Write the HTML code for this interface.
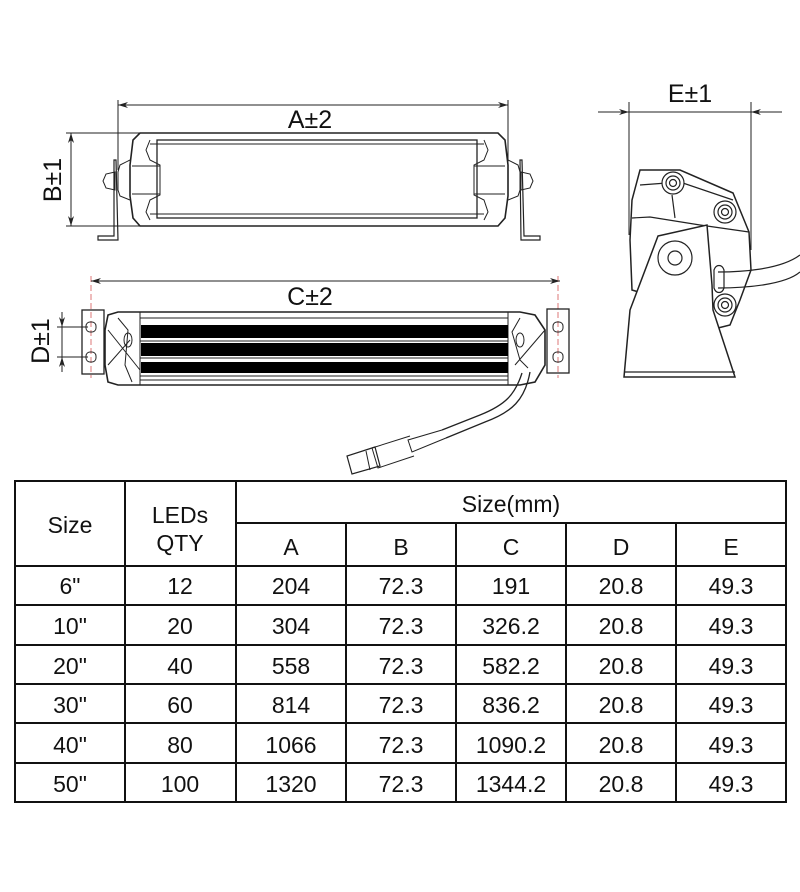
<!DOCTYPE html>
<html><head><meta charset="utf-8"><style>
html,body{margin:0;padding:0;background:#fff;}
svg{display:block;font-family:"Liberation Sans",Arial,sans-serif;}
</style></head><body>
<svg width="800" height="892" viewBox="0 0 800 892" xmlns="http://www.w3.org/2000/svg">
<defs>
<marker id="ar" viewBox="0 0 10 6" refX="10" refY="3" markerWidth="10" markerHeight="6" orient="auto-start-reverse"><path d="M0,0 L10,3 L0,6 L3,3z" fill="#222"/></marker>
</defs>
<g stroke="#222" fill="none" stroke-width="1">
<line x1="118" y1="100" x2="118" y2="170"/>
<line x1="508" y1="100" x2="508" y2="170"/>
<line x1="118" y1="105" x2="508" y2="105" marker-start="url(#ar)" marker-end="url(#ar)"/>
<line x1="66" y1="133" x2="140" y2="133"/>
<line x1="66" y1="226" x2="140" y2="226"/>
<line x1="71" y1="133" x2="71" y2="226" marker-start="url(#ar)" marker-end="url(#ar)"/>
<path d="M140,133 L498,133 L505,140 L508,165 L508,196 L505,218 L498,226 L140,226 L133,218 L130,196 L130,165 L133,140 Z" stroke-width="1.6"/>
<rect x="157" y="140" width="320" height="78" stroke-width="1.3"/>
<line x1="150" y1="144" x2="484" y2="144"/>
<line x1="150" y1="214" x2="484" y2="214"/>
<path d="M150,140 L146,150 L150,160 L160,165 L160,195 L150,200 L146,212 L150,220"/>
<path d="M484,140 L488,150 L484,160 L474,165 L474,195 L484,200 L488,212 L484,220"/>
<line x1="132" y1="166" x2="160" y2="166"/><line x1="132" y1="194" x2="160" y2="194"/>
<line x1="474" y1="166" x2="505" y2="166"/><line x1="474" y1="194" x2="505" y2="194"/>
<path d="M130,160 L120,165 L118,172 L118,190 L120,196 L130,200"/>
<path d="M508,160 L518,165 L520,172 L520,190 L518,196 L508,200"/>
<path d="M115,172 L106,174 L103,181 L106,188 L115,190 Z"/>
<path d="M521,172 L530,174 L533,181 L530,188 L521,190 Z"/>
<path d="M114,160 L116,160 L118,240 L98,240 L98,236 L114,236 Z" stroke-width="1.2"/>
<path d="M522,160 L520,160 L521,240 L540,240 L540,236 L524,236 Z" stroke-width="1.2"/>
<line x1="91" y1="276" x2="91" y2="378" stroke="#d77" stroke-dasharray="6,3"/>
<line x1="558" y1="276" x2="558" y2="378" stroke="#d77" stroke-dasharray="6,3"/>
<line x1="91" y1="281" x2="560" y2="281" marker-start="url(#ar)" marker-end="url(#ar)"/>
<line x1="57" y1="327" x2="88" y2="327"/><line x1="57" y1="357" x2="88" y2="357"/>
<line x1="62" y1="312" x2="62" y2="327" marker-end="url(#ar)"/>
<line x1="62" y1="372" x2="62" y2="357" marker-end="url(#ar)"/>
<line x1="62" y1="327" x2="62" y2="357"/>
<rect x="82" y="310" width="22" height="64" stroke-width="1.3"/>
<rect x="547" y="309" width="22" height="64" stroke-width="1.3"/>
<rect x="86" y="322" width="10" height="10" rx="4"/><rect x="86" y="352" width="10" height="10" rx="4"/>
<rect x="553" y="322" width="10" height="10" rx="4"/><rect x="553" y="352" width="10" height="10" rx="4"/>
<path d="M118,312 L520,312 L535,315 L545,330 L545,365 L535,382 L520,385 L118,385 L108,382 L105,365 L105,330 L108,315 Z" stroke-width="1.6"/>
<line x1="140" y1="312" x2="140" y2="385"/><line x1="508" y1="312" x2="508" y2="385"/>
<line x1="140" y1="318" x2="508" y2="318"/><line x1="140" y1="341" x2="508" y2="341"/>
<line x1="140" y1="358" x2="508" y2="358"/><line x1="140" y1="376" x2="508" y2="376"/><line x1="140" y1="380" x2="508" y2="380"/>
<path d="M118,318 L128,330 L125,365 L132,382"/><path d="M520,318 L512,332 L520,360 L528,368"/>
<ellipse cx="128" cy="340" rx="4" ry="7"/><ellipse cx="520" cy="340" rx="4" ry="7"/>
<path d="M108,330 L140,370 M108,365 L130,340"/><path d="M545,330 L515,365"/>
<path d="M522,373 C515,395 505,405 480,415 L442,430" stroke-width="1.3"/>
<path d="M530,372 C525,400 512,412 485,422 L446,438" stroke-width="1.3"/>
<path d="M442,430 L408,440 L412,452 L446,438"/>
<path d="M410,436 L372,448 L378,468 L414,456"/>
<path d="M375,447 L347,456 L352,474 L380,466 Z" stroke-width="1.2"/>
<path d="M366,451 L370,470"/>
</g>
<g fill="#000">
<rect x="141" y="325" width="367" height="13"/>
<rect x="141" y="343" width="367" height="13"/>
<rect x="141" y="362" width="367" height="11"/>
</g>
<g stroke="#222" fill="none" stroke-width="1.2">
<line x1="629" y1="102" x2="629" y2="235" stroke-width="1"/>
<line x1="751" y1="102" x2="751" y2="250" stroke-width="1"/>
<line x1="598" y1="112" x2="629" y2="112" marker-end="url(#ar)" stroke-width="1"/>
<line x1="782" y1="112" x2="751" y2="112" marker-end="url(#ar)" stroke-width="1"/>
<line x1="629" y1="112" x2="751" y2="112" stroke-width="1"/>
<path d="M640,170 L680,170 L733,193 L749,232 L751,270 L740,300 L730,325 L710,330 L688,330 L665,300 L632,290 L630,240 L632,200 Z" stroke-width="1.5"/>
<path d="M632,218 L650,217 L700,225 L749,232"/>
<path d="M640,185 L680,182 L733,200"/>
<path d="M672,195 L675,218"/>
<path d="M658,236 L707,225 L712,285 L713,310 L735,377 L624,377 L630,310 Z" fill="#fff" stroke-width="1.5"/>
<line x1="624" y1="372" x2="735" y2="372"/>
<circle cx="675" cy="258" r="17"/>
<circle cx="675" cy="258" r="7"/>
<circle cx="673" cy="183" r="11" fill="#fff"/><circle cx="673" cy="183" r="7"/><circle cx="673" cy="183" r="3.5"/>
<circle cx="725" cy="212" r="11" fill="#fff"/><circle cx="725" cy="212" r="7"/><circle cx="725" cy="212" r="3.5"/>
<circle cx="725" cy="305" r="11" fill="#fff"/><circle cx="725" cy="305" r="7"/><circle cx="725" cy="305" r="3.5"/>
<path d="M714,270 C716,264 722,264 724,270 L724,288 C722,294 716,294 714,288 Z"/>
<path d="M718,272 C740,272 780,270 800,255"/>
<path d="M718,288 C745,288 785,285 800,272"/>
</g>
<g fill="#111" font-size="25">
<text x="310" y="128" text-anchor="middle">A±2</text>
<text x="310" y="305" text-anchor="middle">C±2</text>
<text x="690" y="102" text-anchor="middle">E±1</text>
<text transform="translate(61,180) rotate(-90)" text-anchor="middle">B±1</text>
<text transform="translate(49,341) rotate(-90)" text-anchor="middle">D±1</text>
</g>
<g stroke="#111" stroke-width="2" fill="none">
<rect x="15" y="481" width="771" height="321"/>
<line x1="125" y1="481" x2="125" y2="802"/>
<line x1="236" y1="481" x2="236" y2="802"/>
<line x1="236" y1="523" x2="786" y2="523"/>
<line x1="346" y1="523" x2="346" y2="802"/>
<line x1="456" y1="523" x2="456" y2="802"/>
<line x1="566" y1="523" x2="566" y2="802"/>
<line x1="676" y1="523" x2="676" y2="802"/>
<line x1="15" y1="566" x2="786" y2="566"/>
<line x1="15" y1="605" x2="786" y2="605"/>
<line x1="15" y1="645" x2="786" y2="645"/>
<line x1="15" y1="684" x2="786" y2="684"/>
<line x1="15" y1="723" x2="786" y2="723"/>
<line x1="15" y1="763" x2="786" y2="763"/>
</g>
<g fill="#111" font-size="23" text-anchor="middle">
<text x="70" y="533">Size</text>
<text x="180" y="523">LEDs</text>
<text x="180" y="551">QTY</text>
<text x="511" y="512">Size(mm)</text>
<text x="291" y="555">A</text><text x="401" y="555">B</text><text x="511" y="555">C</text><text x="621" y="555">D</text><text x="731" y="555">E</text>
<text x="70" y="594">6"</text><text x="180" y="594">12</text><text x="291" y="594">204</text><text x="401" y="594">72.3</text><text x="511" y="594">191</text><text x="621" y="594">20.8</text><text x="731" y="594">49.3</text>
<text x="70" y="634">10"</text><text x="180" y="634">20</text><text x="291" y="634">304</text><text x="401" y="634">72.3</text><text x="511" y="634">326.2</text><text x="621" y="634">20.8</text><text x="731" y="634">49.3</text>
<text x="70" y="674">20"</text><text x="180" y="674">40</text><text x="291" y="674">558</text><text x="401" y="674">72.3</text><text x="511" y="674">582.2</text><text x="621" y="674">20.8</text><text x="731" y="674">49.3</text>
<text x="70" y="713">30"</text><text x="180" y="713">60</text><text x="291" y="713">814</text><text x="401" y="713">72.3</text><text x="511" y="713">836.2</text><text x="621" y="713">20.8</text><text x="731" y="713">49.3</text>
<text x="70" y="753">40"</text><text x="180" y="753">80</text><text x="291" y="753">1066</text><text x="401" y="753">72.3</text><text x="511" y="753">1090.2</text><text x="621" y="753">20.8</text><text x="731" y="753">49.3</text>
<text x="70" y="792">50"</text><text x="180" y="792">100</text><text x="291" y="792">1320</text><text x="401" y="792">72.3</text><text x="511" y="792">1344.2</text><text x="621" y="792">20.8</text><text x="731" y="792">49.3</text>
</g>
</svg>
</body></html>
